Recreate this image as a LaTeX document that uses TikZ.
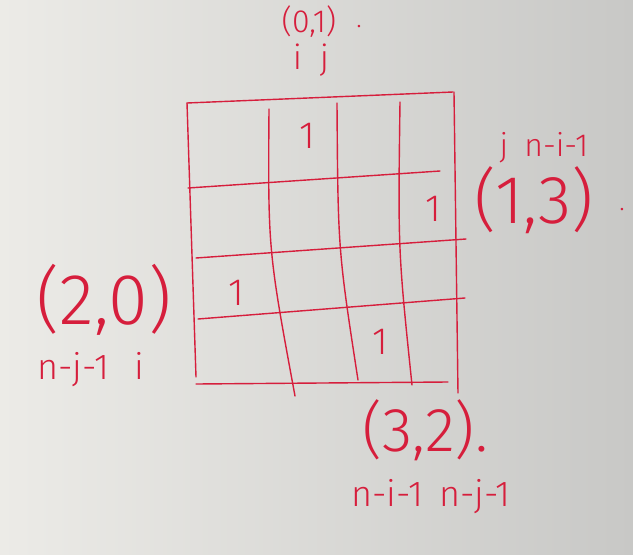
\documentclass[tikz,border=0pt]{standalone}
\usepackage{fontspec}
\setmainfont{Fira Sans Light}
\definecolor{ink}{RGB}{214,30,60}
\definecolor{paperlight}{RGB}{236,235,231}
\definecolor{paperdark}{RGB}{200,200,198}

\begin{document}
\begin{tikzpicture}[x=1pt, y=-1pt,
    pen/.style={draw=ink, line width=1.4pt, line cap=round},
    note/.style={text=ink, inner sep=0pt},
    one/.style={text=ink, inner sep=0pt, font=\fontsize{38}{38}\selectfont}
]
    % Paper
    \shade[left color=paperlight, right color=paperdark] (0,0) rectangle (633,555);
    \useasboundingbox (0,0) rectangle (633,555);

    % Outer frame
    \draw[pen] (187,103) -- (453,92);
    \draw[pen] (187,103) -- (196,377);
    \draw[pen] (454,92) -- (458,393);
    \draw[pen] (196,384) -- (448,382);

    % Row lines
    \draw[pen] (188,188) -- (440,171);
    \draw[pen] (196,258) -- (466,239);
    \draw[pen] (198,319) -- (465,298);

    % Column lines
    \draw[pen] (269,109) .. controls (268,250) .. (295,396);
    \draw[pen] (337,103) .. controls (338,250) .. (358,380);
    \draw[pen] (400,102) .. controls (398,250) .. (412,385);

    % Ones in the grid
    \node[one] (c01) at (307,136) {1};
    \node[one] (c13) at (433,209) {1};
    \node[one] (c20) at (236,293) {1};
    \node[one] (c32) at (380,342) {1};

    % Top label
    \node[note, font=\fontsize{32}{32}\selectfont] (top) at (309,22) {(0,1)};
    \node[note, font=\fontsize{26}{26}\selectfont] (topdot) at (359,27) {.};
    \node[note, font=\fontsize{34}{34}\selectfont] (topij) at (311,60) {i\hspace{18pt}j};

    % Right label
    \node[note, font=\fontsize{32}{32}\selectfont] (rightidx) at (544,148) {j\hspace{16pt}n-i-1};
    \node[note, font=\fontsize{68}{68}\selectfont] (right) at (534,200) {(1,3)};
    \node[note, font=\fontsize{26}{26}\selectfont] (rightdot) at (622,210) {.};

    % Left label
    \node[note, font=\fontsize{72}{72}\selectfont] (left) at (104,300) {(2,0)};
    \node[note, font=\fontsize{36}{36}\selectfont] (leftidx) at (91,370) {n-j-1\hspace{26pt}i};

    % Bottom label
    \node[note, font=\fontsize{62}{62}\selectfont] (bottom) at (425,430) {(3,2).};
    \node[note, font=\fontsize{36}{36}\selectfont] (bottomidx) at (431,497) {n-i-1\hspace{16pt}n-j-1};
\end{tikzpicture}
\end{document}
